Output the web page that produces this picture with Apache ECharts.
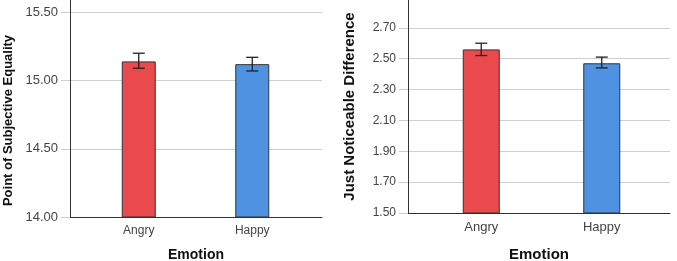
<!DOCTYPE html>
<html>
<head>
<meta charset="utf-8">
<script src="https://cdn.jsdelivr.net/npm/echarts@6/dist/echarts.min.js"></script>
<style>
  html, body { margin: 0; padding: 0; background: #fff; }
  #chart { width: 677px; height: 261px; }
</style>
</head>
<body>
<div id="chart"></div>
<script>
  // categories
  const emotions = ['Angry', 'Happy'];
  // left panel: Point of Subjective Equality
  const pseMean = [15.14, 15.12];
  const pseLow = [15.09, 15.07];
  const pseHigh = [15.20, 15.17];
  // right panel: Just Noticeable Difference
  const jndMean = [2.56, 2.47];
  const jndLow = [2.52, 2.44];
  const jndHigh = [2.60, 2.51];
  const barColors = ['#ea4a4c', '#4f92e2'];

  const myChart = echarts.init(document.getElementById('chart'));
  const font = 'Liberation Sans, Arial, sans-serif';

  function errorData(low, high) {
    return emotions.map(function (c, i) { return [i, low[i], high[i]]; });
  }
  function errorRender(params, api) {
    const x = api.value(0);
    const lo = api.coord([x, api.value(1)]);
    const hi = api.coord([x, api.value(2)]);
    const w = 6;
    const st = { stroke: '#222', lineWidth: 1.3 };
    return {
      type: 'group',
      children: [
        { type: 'line', shape: { x1: lo[0], y1: lo[1], x2: hi[0], y2: hi[1] }, style: st },
        { type: 'line', shape: { x1: hi[0] - w, y1: hi[1], x2: hi[0] + w, y2: hi[1] }, style: st },
        { type: 'line', shape: { x1: lo[0] - w, y1: lo[1], x2: lo[0] + w, y2: lo[1] }, style: st }
      ]
    };
  }

  // frame axis (lines, ticks, grid lines) for each panel
  function frameY(idx, min, max, step, fs, name, nfs, nameGap, namePad) {
    return {
      type: 'value', gridIndex: idx, min: min, max: max, interval: step,
      axisLine: { show: true, lineStyle: { color: '#333', width: 1 } },
      axisTick: { show: true, length: 9, lineStyle: { color: '#cccccc' } },
      axisLabel: { show: true, margin: 12, color: '#444', fontSize: fs, fontFamily: font,
        showMaxLabel: false, formatter: function (v) { return v.toFixed(2); } },
      splitLine: { show: true, showMaxLine: false, lineStyle: { color: '#cfcfcf', width: 1 } },
      name: name, nameLocation: 'middle', nameGap: nameGap, nameRotate: 90,
      nameTextStyle: { color: '#111', fontWeight: 'bold', fontSize: nfs, fontFamily: font, padding: namePad }
    };
  }
  function frameX(idx, fs, gap) {
    return {
      type: 'value', gridIndex: idx, min: 0, max: 1,
      axisLine: { show: true, onZero: false, lineStyle: { color: '#333', width: 1 } },
      axisTick: { show: false }, axisLabel: { show: false }, splitLine: { show: false },
      name: 'Emotion', nameLocation: 'middle', nameGap: gap,
      nameTextStyle: { color: '#111', fontWeight: 'bold', fontSize: fs, fontFamily: font }
    };
  }
  function barX(idx, fs) {
    return {
      type: 'category', gridIndex: idx, data: emotions,
      axisLine: { show: false }, axisTick: { show: false },
      axisLabel: { color: '#444', fontSize: fs, fontFamily: font, margin: 8 }
    };
  }
  function barY(idx, min, max) {
    return { type: 'value', gridIndex: idx, min: min, max: max, show: false };
  }

  const option = {
    animation: false,
    grid: [
      { left: 70, right: 355, top: 0, bottom: 44, outerBoundsMode: 'none' },
      { left: 82, right: 368, top: 0, bottom: 44, outerBoundsMode: 'none' },
      { left: 408, right: 7, top: 0, bottom: 48, outerBoundsMode: 'none' },
      { left: 421, right: 15, top: 0, bottom: 48, outerBoundsMode: 'none' }
    ],
    xAxis: [frameX(0, 14, 31), barX(1, 12), frameX(2, 15, 34), barX(3, 13)],
    yAxis: [
      frameY(0, 14, 15.59, 0.5, 13, 'Point of Subjective Equality', 13, 55, [0, 24, 0, 0]),
      barY(1, 14, 15.59),
      frameY(2, 1.5, 2.88, 0.2, 12, 'Just Noticeable Difference', 15, 51, 0),
      barY(3, 1.5, 2.88)
    ],
    series: [
      { type: 'bar', xAxisIndex: 1, yAxisIndex: 1, barWidth: 34, data: pseMean,
        itemStyle: { color: function (p) { return barColors[p.dataIndex]; }, borderColor: '#333', borderWidth: 1 } },
      { type: 'custom', xAxisIndex: 1, yAxisIndex: 1, renderItem: errorRender, data: errorData(pseLow, pseHigh), z: 5 },
      { type: 'bar', xAxisIndex: 3, yAxisIndex: 3, barWidth: 37, data: jndMean,
        itemStyle: { color: function (p) { return barColors[p.dataIndex]; }, borderColor: '#333', borderWidth: 1 } },
      { type: 'custom', xAxisIndex: 3, yAxisIndex: 3, renderItem: errorRender, data: errorData(jndLow, jndHigh), z: 5 }
    ]
  };
  myChart.setOption(option);
</script>
</body>
</html>
